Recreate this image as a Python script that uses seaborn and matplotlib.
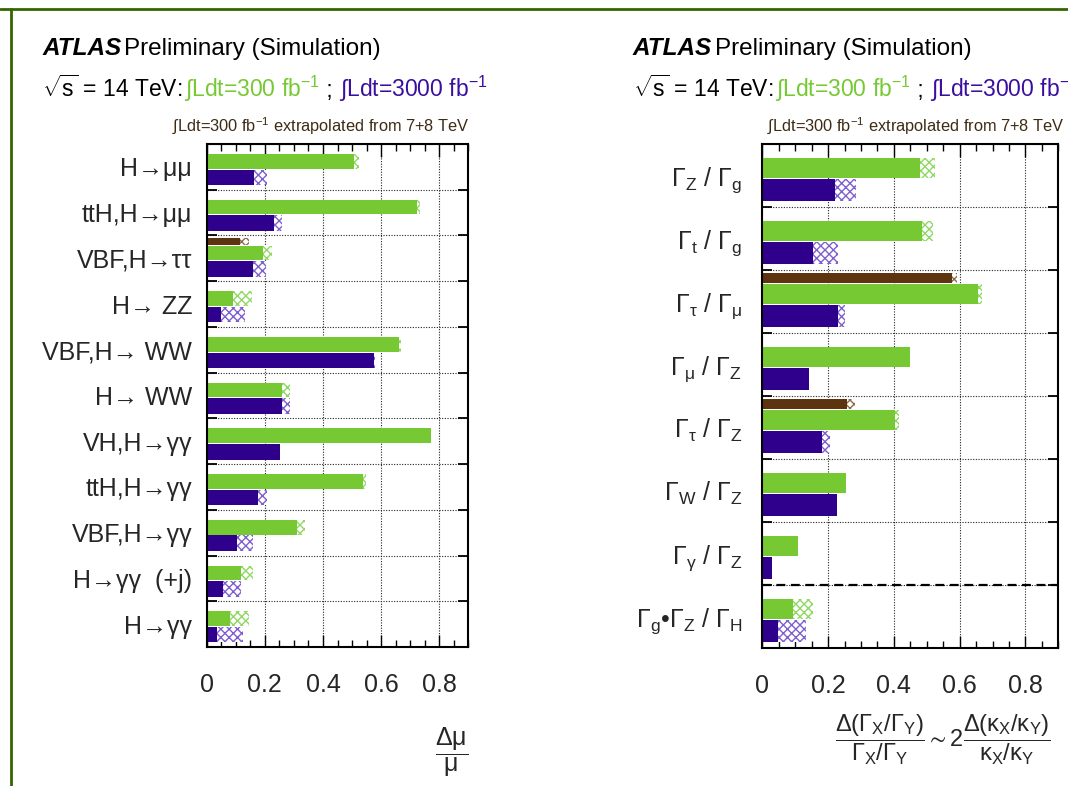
import numpy as np
import matplotlib
matplotlib.use("Agg")
import matplotlib.pyplot as plt
import seaborn as sns
from matplotlib.lines import Line2D
from matplotlib.ticker import MultipleLocator, FixedLocator

# ---------------- data ----------------
left_cats = ["H→μμ", "ttH,H→μμ", "VBF,H→ττ", "H→ ZZ", "VBF,H→ WW", "H→ WW",
             "VH,H→γγ", "ttH,H→γγ", "VBF,H→γγ", "H→γγ  (+j)", "H→γγ"]
left_300_stat = [0.508, 0.722, 0.192, 0.092, 0.661, 0.259, 0.770, 0.538, 0.310, 0.118, 0.080]
left_300_full = [0.523, 0.733, 0.226, 0.155, 0.667, 0.287, 0.770, 0.549, 0.337, 0.159, 0.146]
left_3000_stat = [0.164, 0.230, 0.161, 0.048, 0.577, 0.259, 0.253, 0.175, 0.103, 0.055, 0.037]
left_3000_full = [0.207, 0.260, 0.203, 0.132, 0.580, 0.287, 0.253, 0.207, 0.161, 0.118, 0.126]
left_78_stat = [np.nan, np.nan, 0.115, np.nan, np.nan, np.nan, np.nan, np.nan, np.nan, np.nan, np.nan]
left_78_full = [np.nan, np.nan, 0.144, np.nan, np.nan, np.nan, np.nan, np.nan, np.nan, np.nan, np.nan]

right_cats = [r"$\Gamma_{Z}$ / $\Gamma_{g}$", r"$\Gamma_{t}$ / $\Gamma_{g}$",
              r"$\Gamma_{\tau}$ / $\Gamma_{\mu}$", r"$\Gamma_{\mu}$ / $\Gamma_{Z}$",
              r"$\Gamma_{\tau}$ / $\Gamma_{Z}$", r"$\Gamma_{W}$ / $\Gamma_{Z}$",
              r"$\Gamma_{\gamma}$ / $\Gamma_{Z}$", r"$\Gamma_{g}$•$\Gamma_{Z}$ / $\Gamma_{H}$"]
right_300_stat = [0.480, 0.485, 0.656, 0.448, 0.404, 0.254, 0.110, 0.092]
right_300_full = [0.524, 0.519, 0.668, 0.448, 0.416, 0.254, 0.110, 0.155]
right_3000_stat = [0.221, 0.153, 0.229, 0.142, 0.183, 0.226, 0.029, 0.047]
right_3000_full = [0.285, 0.231, 0.252, 0.142, 0.207, 0.226, 0.029, 0.133]
right_78_stat = [np.nan, np.nan, 0.576, np.nan, 0.257, np.nan, np.nan, np.nan]
right_78_full = [np.nan, np.nan, 0.591, np.nan, 0.282, np.nan, np.nan, np.nan]

xticks = [0, 0.2, 0.4, 0.6, 0.8]
xtick_labels = ["0", "0.2", "0.4", "0.6", "0.8"]

# ---------------- style ----------------
GREEN = "#76c932"
GREEN_H = "#8fd862"
PURPLE = "#2e008c"
PURPLE_H = "#7f5fd0"
BROWN = "#5c3510"
BROWN_H = "#8c6a48"

sns.set_theme(style="white")
plt.rcParams["font.family"] = ["Liberation Sans", "DejaVu Sans"]
plt.rcParams["mathtext.fontset"] = "custom"
plt.rcParams["mathtext.rm"] = "Liberation Sans"
plt.rcParams["mathtext.it"] = "Liberation Sans:italic"
plt.rcParams["mathtext.bf"] = "Liberation Sans:bold"
plt.rcParams["mathtext.sf"] = "Liberation Sans"
plt.rcParams["mathtext.default"] = "regular"
plt.rcParams["hatch.linewidth"] = 1.0

W, H = 1068, 786
fig = plt.figure(figsize=(W / 100, H / 100), dpi=100)
fig.patch.set_facecolor("white")


def px_axes(x0, y0, x1, y1):
    return fig.add_axes([x0 / W, 1 - y1 / H, (x1 - x0) / W, (y1 - y0) / H])


def draw_panel(ax, cats, s300, f300, s3000, f3000, s78, f78, label_pad):
    n = len(cats)
    ybase = np.arange(n)
    groups = [
        (s78, f78, BROWN, BROWN_H, 0.05, 0.20),
        (s300, f300, GREEN, GREEN_H, 0.22, 0.54),
        (s3000, f3000, PURPLE, PURPLE_H, 0.56, 0.90),
    ]
    for stat, full, col, hcol, a, b in groups:
        stat = np.asarray(stat, float)
        full = np.asarray(full, float)
        yc = ybase + (a + b) / 2
        ok = ~np.isnan(stat)
        ax.barh(yc[ok], stat[ok], height=b - a, left=0, color=col, lw=0, zorder=2)
        ax.barh(yc[ok], (full - stat)[ok], height=b - a, left=stat[ok],
                facecolor="white", edgecolor=hcol, hatch="xxxx", lw=0, zorder=2)
    ax.set_xlim(0, 0.9)
    ax.set_ylim(n, 0)
    ax.yaxis.set_major_locator(FixedLocator(np.arange(n + 1)))
    ax.yaxis.set_minor_locator(FixedLocator(ybase + 0.5))
    ax.set_yticklabels([], minor=False)
    ax.set_yticklabels(cats, minor=True)
    ax.set_xticks(xticks)
    ax.set_xticklabels(xtick_labels)
    ax.xaxis.set_minor_locator(MultipleLocator(0.05))
    ax.tick_params(axis="x", which="both", direction="in", top=True, bottom=True,
                   color="black", width=1.0)
    ax.tick_params(axis="x", which="major", length=9, labelsize=18, pad=19)
    ax.tick_params(axis="x", which="minor", length=5)
    ax.tick_params(axis="y", which="major", direction="in", left=True, right=True,
                   length=7, width=1.3, color="black")
    ax.tick_params(axis="y", which="minor", length=0, labelsize=18, pad=label_pad)
    ax.grid(True, which="major", ls=(0, (1, 1.4)), color="#222222", lw=0.8)
    ax.set_axisbelow(True)
    for sp in ax.spines.values():
        sp.set_color("black")
        sp.set_linewidth(1.5)
    ax.set_xlabel("")
    ax.set_ylabel("")


ax1 = px_axes(206.7, 144, 468.3, 647)
draw_panel(ax1, left_cats, left_300_stat, left_300_full, left_3000_stat,
           left_3000_full, left_78_stat, left_78_full, 10.5)

ax2 = px_axes(762.3, 144, 1058.3, 648)
draw_panel(ax2, right_cats, right_300_stat, right_300_full, right_3000_stat,
           right_3000_full, right_78_stat, right_78_full, 14.5)
ax2.axhline(7, color="black", ls=(0, (4, 2.5)), lw=1.6, zorder=3)

fig.canvas.draw()
renderer = fig.canvas.get_renderer()


def put_segments(x_px, y_px, segs, size):
    x = x_px
    for s, color, kw, gap in segs:
        t = fig.text(x / W, 1 - y_px / H, s, color=color, ha="left", va="baseline",
                     fontsize=size, **kw)
        x += t.get_window_extent(renderer).width + gap


for bx in (42, 633):
    put_segments(bx, 55, [("ATLAS", "black", dict(weight="bold", style="italic"), 3),
                          ("Preliminary (Simulation)", "black", {}, 0)], 17.5)
    put_segments(bx, 97, [(r"$\sqrt{s}$ = 14 TeV: ", "black", {}, 0),
                          (r"∫Ldt=300 fb$^{-1}$", GREEN, {}, 0),
                          (" ; ", "black", {}, 0),
                          (r"∫Ldt=3000 fb$^{-1}$", "#3a0fa0", {}, 0)], 16.5)

for bx in (172, 767):
    put_segments(bx, 131, [(r"∫Ldt=300 fb$^{-1}$ extrapolated from 7+8 TeV", "#3d2b14", {}, 0)], 11.8)

fig.text(451.7 / W, 1 - 752 / H, r"$\dfrac{\Delta\mu}{\mu}$", ha="center", va="center",
         fontsize=18)
fig.text(943 / W, 1 - 740 / H,
         r"$\dfrac{\Delta(\Gamma_X/\Gamma_Y)}{\Gamma_X/\Gamma_Y} \sim 2\dfrac{\Delta(\kappa_X/\kappa_Y)}{\kappa_X/\kappa_Y}$",
         ha="center", va="center", fontsize=17)

# outer frame lines
fig.add_artist(Line2D([0, 1], [1 - 8.5 / H] * 2, transform=fig.transFigure,
                      color="#336600", lw=2))
fig.add_artist(Line2D([10.5 / W] * 2, [0, 1 - 8.5 / H], transform=fig.transFigure,
                      color="#336600", lw=2))

fig.savefig("out.png", dpi=100)
